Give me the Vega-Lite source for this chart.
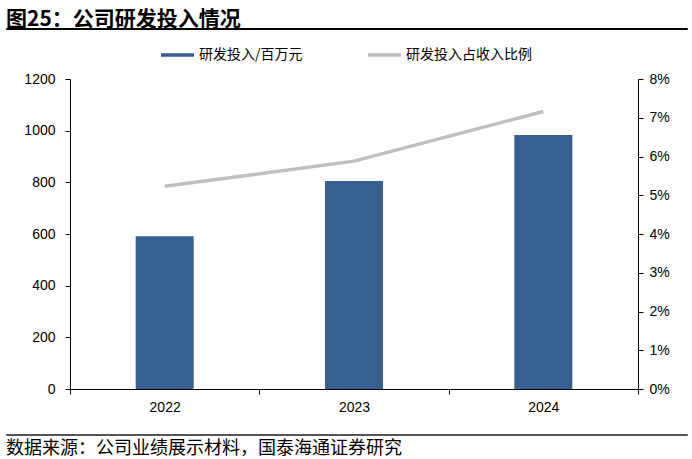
{
  "$schema": "https://vega.github.io/schema/vega-lite/v6.json",
  "padding": {"top": 8, "left": 5, "right": 0, "bottom": 0},
  "data": {
    "values": [
      {"year": "2022", "rd": 591, "ratio": 0.0523},
      {"year": "2023", "rd": 805, "ratio": 0.0588},
      {"year": "2024", "rd": 983, "ratio": 0.0716}
    ]
  },
  "spacing": 14,
  "vconcat": [
    {
      "width": 681,
      "height": 1,
      "view": {"stroke": "#000", "strokeWidth": 1},
      "title": {
        "text": "图25：公司研发投入情况",
        "anchor": "start",
        "font": "Noto Sans CJK SC",
        "fontSize": 21,
        "fontWeight": "bold",
        "color": "#000",
        "offset": -7
      },
      "mark": "text",
      "encoding": {"text": {"value": ""}}
    },
    {
      "spacing": 0,
      "hconcat": [
        {
          "width": 17,
          "height": 310,
          "mark": "text",
          "encoding": {"text": {"value": ""}}
        },
        {
          "name": "main",
          "width": 568,
          "height": 310,
          "layer": [
            {
              "mark": {"type": "bar", "size": 58},
              "encoding": {
                "x": {
                  "field": "year",
                  "type": "ordinal",
                  "scale": {"paddingInner": 0, "paddingOuter": 0},
                  "axis": {
                    "title": null,
                    "labelAngle": 0,
                    "tickBand": "extent",
                    "labelPadding": 6
                  }
                },
                "y": {
                  "field": "rd",
                  "type": "quantitative",
                  "scale": {"domain": [0, 1200]},
                  "axis": {
                    "orient": "left",
                    "title": null,
                    "values": [0, 200, 400, 600, 800, 1000, 1200],
                    "format": "d",
                    "labelPadding": 10
                  }
                },
                "color": {
                  "datum": "研发投入/百万元",
                  "type": "nominal",
                  "scale": {
                    "domain": ["研发投入/百万元", "研发投入占收入比例"],
                    "range": ["#375F92", "#BFBFBF"]
                  },
                  "legend": {
                    "title": null,
                    "orient": "none",
                    "legendX": 100.5,
                    "legendY": -31,
                    "direction": "horizontal",
                    "symbolType": "M-3.3,-0.35H3.3V0.35H-3.3Z",
                    "symbolSize": 100,
                    "labelOffset": 14.5,
                    "columnPadding": 65,
                    "labelFont": "Noto Sans CJK SC",
                    "labelFontSize": 14,
                    "labelColor": "#000",
                    "labelLimit": 300,
                    "encode": {
                      "symbols": {
                        "update": {
                          "fill": {"scale": "main_color", "field": "value"},
                          "strokeWidth": {"value": 0}
                        }
                      }
                    }
                  }
                }
              }
            },
            {
              "mark": {"type": "line", "strokeWidth": 3.5},
              "encoding": {
                "x": {"field": "year", "type": "ordinal", "bandPosition": 0.5},
                "y": {
                  "field": "ratio",
                  "type": "quantitative",
                  "scale": {"domain": [0, 0.08]},
                  "axis": {
                    "orient": "right",
                    "title": null,
                    "values": [0, 0.01, 0.02, 0.03, 0.04, 0.05, 0.06, 0.07, 0.08],
                    "format": ".0%",
                    "labelPadding": 6
                  }
                },
                "color": {"datum": "研发投入占收入比例", "type": "nominal"}
              }
            }
          ],
          "resolve": {"scale": {"y": "independent"}}
        }
      ],
      "resolve": {
        "scale": {"color": "independent"},
        "legend": {"color": "independent"}
      }
    },
    {
      "width": 681,
      "height": 1,
      "view": {"stroke": "#555", "strokeWidth": 1},
      "title": {
        "text": "数据来源：公司业绩展示材料，国泰海通证券研究",
        "orient": "bottom",
        "anchor": "start",
        "font": "Noto Sans CJK SC",
        "fontSize": 18,
        "fontWeight": "normal",
        "color": "#000",
        "offset": 0
      },
      "mark": "text",
      "encoding": {"text": {"value": ""}}
    }
  ],
  "resolve": {
    "scale": {"color": "independent"},
    "legend": {"color": "independent"}
  },
  "config": {
    "view": {"stroke": null},
    "axis": {
      "grid": false,
      "domainColor": "#000",
      "tickColor": "#000",
      "tickSize": 5,
      "labelColor": "#000",
      "labelFont": "Liberation Sans",
      "labelFontSize": 14
    }
  }
}
